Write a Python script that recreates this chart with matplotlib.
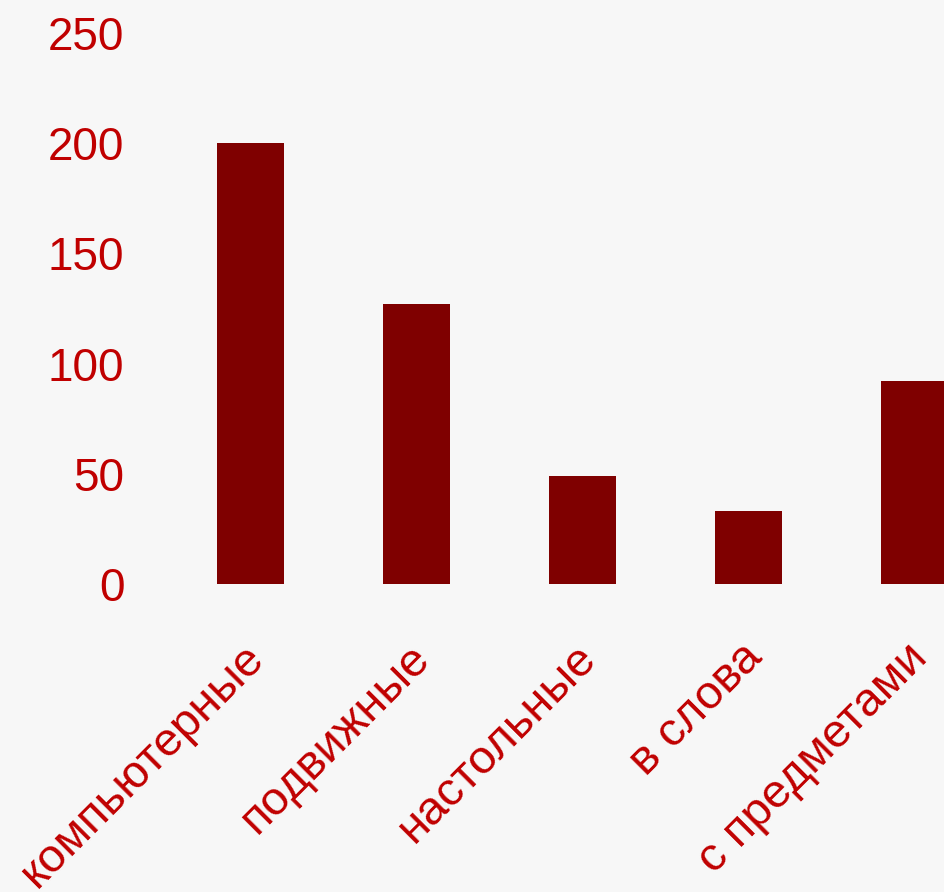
import matplotlib
matplotlib.use('Agg')
import matplotlib.pyplot as plt
import matplotlib.transforms as mtransforms

categories = ['компьютерные', 'подвижные', 'настольные', 'в слова', 'с предметами']
values = [200, 127, 49, 33, 92]
yticks = [0, 50, 100, 150, 200, 250]

bg = '#f7f7f7'
bar_color = '#7f0000'
text_color = '#c00000'

plt.rcParams['font.family'] = ['Liberation Sans', 'DejaVu Sans']

W, H = 945, 892
fig = plt.figure(figsize=(W / 100, H / 100), dpi=100, facecolor=bg)
# axes reaches past the right edge: the picture is a crop of a wider chart
left_px, right_px, top_px, bot_px = 167.5, 945, 33, 584
ax = fig.add_axes([left_px / W, 1 - bot_px / H, (right_px - left_px) / W, (bot_px - top_px) / H])
ax.set_facecolor(bg)

x = list(range(len(categories)))
ax.bar(x, values, width=0.4, color=bar_color)
ax.set_xlim(-0.5, (945 - 250.5) / 166)
ax.set_ylim(0, 250)
ax.set_yticks(yticks)
ax.set_xticks(x)
ax.set_xticklabels(categories, rotation=45, ha='right', va='top', rotation_mode='anchor')

for s in ax.spines.values():
    s.set_visible(False)
ax.tick_params(axis='y', length=0, pad=31, labelsize=33, labelcolor=text_color)
ax.tick_params(axis='x', length=0, pad=37, labelsize=34, labelcolor=text_color)

# nudge rotated labels a little to the left
shift = mtransforms.ScaledTranslation(-9 / 100, 0, fig.dpi_scale_trans)
for lab in ax.get_xticklabels():
    lab.set_transform(lab.get_transform() + shift)

fig.savefig('out.png', dpi=100, facecolor=bg)
